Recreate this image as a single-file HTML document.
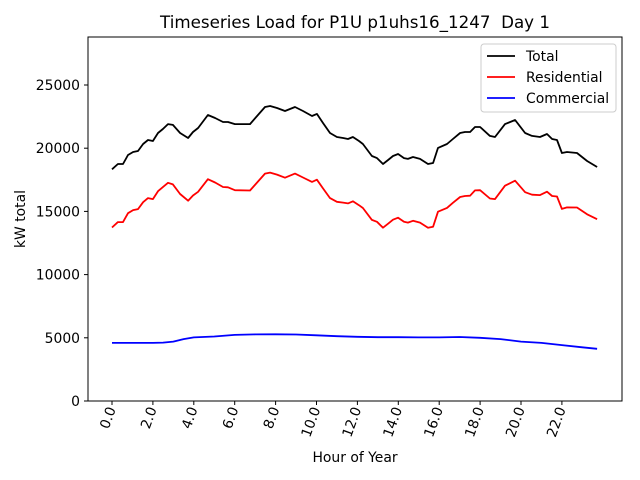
<!DOCTYPE html>
<html><head><meta charset="utf-8"><style>
html,body{margin:0;padding:0;background:#fff}
svg{display:block}
text{font-family:"DejaVu Sans","Liberation Sans",sans-serif;fill:#000}
</style></head><body>
<svg id="chart" width="640" height="480">
<rect x="0" y="0" width="640" height="480" fill="#fff"/>
<text x="355" y="28" font-size="16.7" text-anchor="middle">Timeseries Load for P1U p1uhs16_1247&#160; Day 1</text>
<g id="grid"></g>
<g id="series"></g>
<rect x="88" y="37" width="534" height="364" fill="none" stroke="#000" stroke-width="1"/>
<g id="axes"></g>
<text x="355" y="462" font-size="13.9" text-anchor="middle">Hour of Year</text>
<text transform="translate(25,219) rotate(-90)" font-size="13.9" text-anchor="middle">kW total</text>
<g>
<rect x="481" y="44" width="135" height="68" rx="3" fill="#fff" fill-opacity="0.8" stroke="#ccc"/>
<g><line x1="487" y1="56" x2="515" y2="56" stroke="#000" stroke-width="1.8"/><text x="526" y="61" font-size="13.9">Total</text></g>
<g><line x1="487" y1="77" x2="515" y2="77" stroke="#f00" stroke-width="1.8"/><text x="526" y="82" font-size="13.9">Residential</text></g>
<g><line x1="487" y1="98" x2="515" y2="98" stroke="#00f" stroke-width="1.8"/><text x="526" y="103" font-size="13.9">Commercial</text></g>
</g>
</svg>
<script>
const hours=[0,.29,.54,.78,1.03,1.27,1.52,1.76,2.0,2.25,2.49,2.74,2.98,3.33,3.72,3.96,4.21,4.69,5.04,5.43,5.67,6.01,6.75,7.48,7.73,8.07,8.46,8.95,9.34,9.78,10.02,10.32,10.66,11.0,11.3,11.54,11.78,12.08,12.27,12.71,12.96,13.25,13.5,13.74,13.99,14.28,14.47,14.72,15.06,15.45,15.7,15.94,16.38,16.67,17.02,17.26,17.51,17.75,18.0,18.48,18.73,19.22,19.71,20.2,20.54,20.93,21.27,21.52,21.76,22.0,22.25,22.74,23.23,23.72];
const total=[18330,18750,18750,19460,19700,19780,20330,20650,20570,21200,21520,21910,21840,21200,20810,21280,21600,22630,22390,22070,22070,21910,21910,23260,23340,23180,22940,23260,22940,22550,22710,21990,21200,20890,20810,20730,20890,20570,20330,19380,19220,18750,19070,19380,19540,19220,19150,19300,19150,18750,18830,20020,20330,20730,21200,21280,21280,21680,21680,20970,20890,21910,22230,21200,20970,20890,21120,20730,20650,19620,19700,19620,18990,18510];
const residential=[13730,14150,14150,14860,15100,15180,15730,16050,15970,16600,16920,17260,17140,16380,15850,16260,16550,17550,17290,16930,16910,16680,16650,17990,18070,17910,17670,17990,17680,17330,17510,16820,16050,15760,15700,15630,15800,15490,15270,14330,14180,13710,14030,14340,14500,14180,14110,14260,14110,13710,13790,14980,15280,15680,16140,16220,16240,16660,16680,16020,15970,17030,17430,16520,16320,16290,16560,16220,16180,15200,15320,15310,14770,14380];
const commHours=[0,1,2,2.5,3,3.5,4,5,6,7,8,9,10,11,12,13,14,15,16,17,18,19,20,21,22,23,23.72];
const commercial=[4600,4600,4600,4620,4700,4900,5030,5100,5230,5270,5280,5260,5200,5130,5080,5050,5050,5030,5030,5060,5000,4900,4700,4600,4420,4250,4130];
const xTicks=[0,2,4,6,8,10,12,14,16,18,20,22];
const yTicks=[0,5000,10000,15000,20000,25000];
const X=h=>112+h*20.45;
const Y=v=>401-v*0.01264;
const NS='http://www.w3.org/2000/svg';
const axes=document.getElementById('axes');
const ser=document.getElementById('series');
yTicks.forEach(v=>{
 const l=document.createElementNS(NS,'line');
 l.setAttribute('x1',84);l.setAttribute('x2',88);l.setAttribute('y1',Y(v));l.setAttribute('y2',Y(v));l.setAttribute('stroke','#000');
 
 
 axes.appendChild(l);
 const t=document.createElementNS(NS,'text');
 t.setAttribute('x',80);t.setAttribute('y',Y(v)+5);t.setAttribute('text-anchor','end');t.setAttribute('font-size','13.9');
 t.textContent=v;
 
 
 axes.appendChild(t);
});
xTicks.forEach(h=>{
 const x=X(h);
 const l=document.createElementNS(NS,'line');
 l.setAttribute('x1',x);l.setAttribute('x2',x);l.setAttribute('y1',401);l.setAttribute('y2',405);l.setAttribute('stroke','#000');
 
 
 axes.appendChild(l);
 const t=document.createElementNS(NS,'text');
 t.setAttribute('transform','translate('+(x+4)+',409) rotate(-70)');
 t.setAttribute('text-anchor','end');t.setAttribute('font-size','13.9');
 t.textContent=h.toFixed(1);
 
 
 axes.appendChild(t);
});
function line(xs,vs,color,name){
 const p=document.createElementNS(NS,'polyline');
 p.setAttribute('points',xs.map((h,i)=>X(h).toFixed(1)+','+Y(vs[i]).toFixed(1)).join(' '));
 p.setAttribute('fill','none');p.setAttribute('stroke',color);p.setAttribute('stroke-width','1.8');p.setAttribute('stroke-linejoin','round');
 
 
 ser.appendChild(p);
}
line(hours,total,'#000','total-line');
line(hours,residential,'#f00','residential-line');
line(commHours,commercial,'#00f','commercial-line');
</script>
</body></html>
